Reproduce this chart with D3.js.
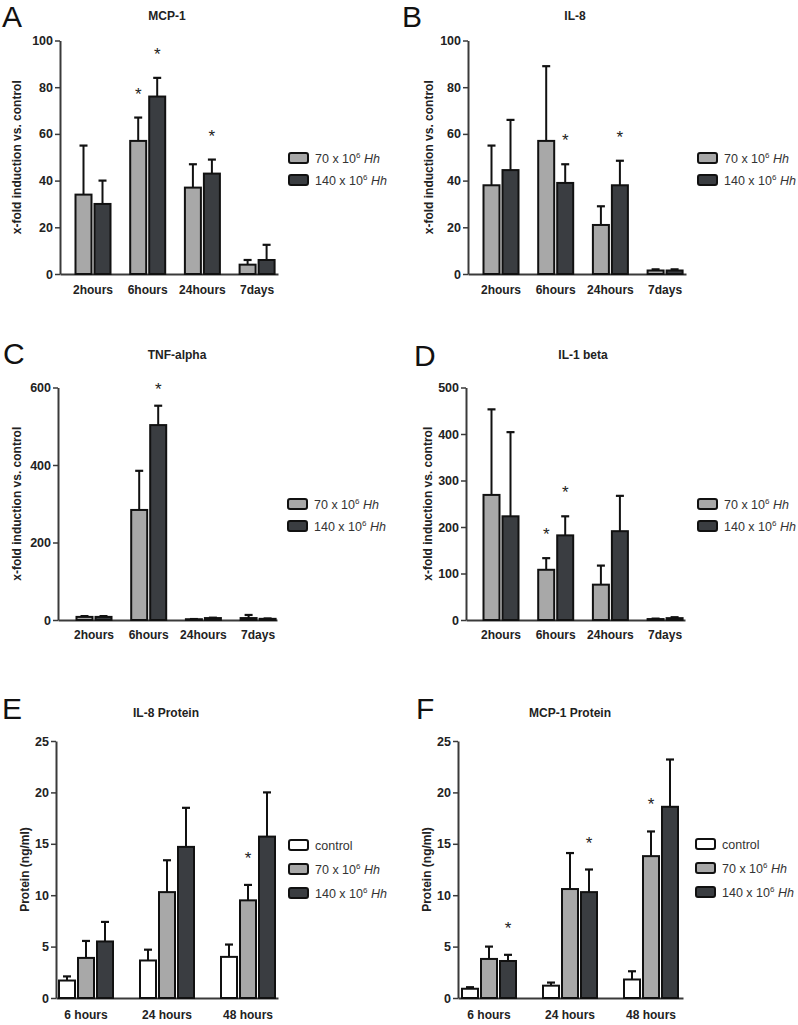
<!DOCTYPE html>
<html>
<head>
<meta charset="utf-8">
<script src="https://cdn.jsdelivr.net/npm/d3@7"></script>
<style>
  html, body { margin: 0; padding: 0; background: #fff; }
  svg { display: block; font-family: "Liberation Sans", Arial, sans-serif; }
</style>
</head>
<body>
<svg id="chart" width="798" height="1025"></svg>
<script>
// ---------------- DATA ----------------
const rnaCategories = ["2hours", "6hours", "24hours", "7days"];
const proteinCategories = ["6 hours", "24 hours", "48 hours"];
const rnaSeries = ["70", "140"];
const proteinSeries = ["control", "70", "140"];

// Panel A: MCP-1 (x-fold induction)
const mcp1Mean70 = [34, 57, 37, 4];
const mcp1Err70 = [21, 10, 10, 2];
const mcp1Mean140 = [30, 76, 43, 6];
const mcp1Err140 = [10, 8, 6, 6.5];
const mcp1Sig70 = [0, 1, 0, 0];
const mcp1Sig140 = [0, 1, 1, 0];
const mcp1Ticks = [0, 20, 40, 60, 80, 100];

// Panel B: IL-8
const il8Mean70 = [38, 57, 21, 1.5];
const il8Err70 = [17, 32, 8, 0.5];
const il8Mean140 = [44.5, 39, 38, 1.5];
const il8Err140 = [21.5, 8, 10.5, 0.5];
const il8Sig70 = [0, 0, 0, 0];
const il8Sig140 = [0, 1, 1, 0];
const il8Ticks = [0, 20, 40, 60, 80, 100];

// Panel C: TNF-alpha
const tnfMean70 = [8, 284, 2, 5];
const tnfErr70 = [2, 101, 0.5, 8];
const tnfMean140 = [8, 503, 5, 3];
const tnfErr140 = [2, 50, 1, 1];
const tnfSig70 = [0, 0, 0, 0];
const tnfSig140 = [0, 1, 0, 0];
const tnfTicks = [0, 200, 400, 600];

// Panel D: IL-1 beta
const il1Mean70 = [269, 108, 76, 2];
const il1Err70 = [184, 25, 41, 1];
const il1Mean140 = [223, 182, 191, 4];
const il1Err140 = [181, 41, 76, 2];
const il1Sig70 = [0, 1, 0, 0];
const il1Sig140 = [0, 1, 0, 0];
const il1Ticks = [0, 100, 200, 300, 400, 500];

// Panel E: IL-8 Protein (ng/ml)
const il8pMeanCtrl = [1.7, 3.65, 4.0];
const il8pErrCtrl = [0.4, 1.05, 1.2];
const il8pMean70 = [3.9, 10.3, 9.5];
const il8pErr70 = [1.65, 3.1, 1.5];
const il8pMean140 = [5.5, 14.7, 15.7];
const il8pErr140 = [1.9, 3.8, 4.3];
const il8pSigCtrl = [0, 0, 0];
const il8pSig70 = [0, 0, 1];
const il8pSig140 = [0, 0, 0];
const proteinTicks = [0, 5, 10, 15, 20, 25];

// Panel F: MCP-1 Protein (ng/ml)
const mcp1pMeanCtrl = [0.9, 1.2, 1.8];
const mcp1pErrCtrl = [0.15, 0.3, 0.8];
const mcp1pMean70 = [3.8, 10.6, 13.8];
const mcp1pErr70 = [1.2, 3.5, 2.4];
const mcp1pMean140 = [3.6, 10.3, 18.6];
const mcp1pErr140 = [0.6, 2.2, 4.6];
const mcp1pSigCtrl = [0, 0, 0];
const mcp1pSig70 = [0, 0, 1];
const mcp1pSig140 = [1, 1, 0];

// ---------------- STYLE ----------------
const fills = { control: "#ffffff", "70": "#a8a8a8", "140": "#3a3d41" };
const textColor = "#222";
const axisColor = "#3a3a3a";

const svg = d3.select("#chart");

function buildRows(cats, series, means, errs, sigs) {
  const rows = [];
  cats.forEach((c, i) => {
    series.forEach((s, j) => {
      rows.push({ cat: c, series: s, mean: means[j][i], err: errs[j][i], sig: sigs[j][i] });
    });
  });
  return rows;
}

function drawPanel(p) {
  const g = svg.append("g");
  const y = d3.scaleLinear().domain([0, p.ticks[p.ticks.length - 1]]).range([p.y0, p.y1]);
  const step = p.step;
  const x0 = d3.scaleBand().domain(p.cats)
    .range([p.axisX + p.first - step / 2, p.axisX + p.first - step / 2 + step * p.cats.length])
    .paddingInner(0).paddingOuter(0);
  const bw = 16, gap = 3;
  const tot = p.series.length * bw + (p.series.length - 1) * gap;
  const x1 = d3.scaleBand().domain(p.series).range([-tot / 2, tot / 2]).paddingInner(gap / (bw + gap)).paddingOuter(0);

  // Panel letter
  g.append("text").attr("x", p.letterX).attr("y", p.letterY)
    .attr("font-size", 30).attr("fill", "#111").text(p.letter);
  // Title
  g.append("text").attr("x", p.titleX).attr("y", p.titleY)
    .attr("text-anchor", "middle").attr("font-size", 12).attr("font-weight", "bold")
    .attr("fill", textColor).text(p.title);

  // Y axis
  const yAxis = d3.axisLeft(y).tickValues(p.ticks).tickSize(5).tickSizeOuter(0).tickPadding(2);
  const ya = g.append("g").attr("transform", `translate(${p.axisX},0)`).call(yAxis);
  ya.select(".domain").attr("stroke", axisColor).attr("stroke-width", 2);
  ya.selectAll(".tick line").attr("stroke", axisColor).attr("stroke-width", 1.5);
  ya.selectAll(".tick text").attr("font-size", 12.5).attr("font-weight", "bold")
    .attr("fill", textColor).attr("font-family", "Liberation Sans, Arial, sans-serif");

  // X axis line (no ticks)
  const xa = d3.axisBottom(d3.scaleLinear().domain([0, 1]).range([p.axisX, p.axisEnd]))
    .tickValues([]).tickSizeOuter(0);
  const xg = g.append("g").attr("transform", `translate(0,${y(0)})`).call(xa);
  xg.select(".domain").attr("stroke", axisColor).attr("stroke-width", 2);

  // Category labels
  g.selectAll(".xlab").data(p.cats).join("text")
    .attr("x", d => x0(d) + x0.bandwidth() / 2)
    .attr("y", p.xLabY)
    .attr("text-anchor", "middle").attr("font-size", 12).attr("font-weight", "bold")
    .attr("fill", textColor).text(d => d);

  // Y label
  g.append("text")
    .attr("transform", `translate(${p.yLabX},${(p.y0 + p.y1) / 2}) rotate(-90)`)
    .attr("text-anchor", "middle").attr("dominant-baseline", "central")
    .attr("font-size", 12).attr("font-weight", "bold").attr("fill", textColor)
    .text(p.yLabel);

  const rows = buildRows(p.cats, p.series, p.means, p.errs, p.sigs);
  const cx = d => x0(d.cat) + x0.bandwidth() / 2 + x1(d.series) + x1.bandwidth() / 2;

  // Error bars (upper only)
  const eg = g.append("g").attr("stroke", "#111").attr("stroke-width", 2);
  eg.selectAll(".evl").data(rows).join("line")
    .attr("x1", cx).attr("x2", cx)
    .attr("y1", d => y(d.mean)).attr("y2", d => y(d.mean + d.err));
  eg.selectAll(".ecap").data(rows).join("line")
    .attr("x1", d => cx(d) - 4).attr("x2", d => cx(d) + 4)
    .attr("y1", d => y(d.mean + d.err)).attr("y2", d => y(d.mean + d.err))
    .attr("stroke-width", 2.2);

  // Bars
  g.selectAll(".bar").data(rows).join("rect")
    .attr("x", d => x0(d.cat) + x0.bandwidth() / 2 + x1(d.series))
    .attr("width", x1.bandwidth())
    .attr("y", d => y(d.mean))
    .attr("height", d => y(0) - y(d.mean))
    .attr("fill", d => fills[d.series])
    .attr("stroke", "#111").attr("stroke-width", 2);

  // Significance asterisks
  g.selectAll(".sig").data(rows.filter(d => d.sig)).join("text")
    .attr("x", cx)
    .attr("y", d => y(d.mean + d.err) - p.starOff + 10)
    .attr("text-anchor", "middle").attr("font-size", 17).attr("fill", textColor)
    .text("*");

  // Legend
  const lg = g.append("g");
  p.series.forEach((s, i) => {
    const yy = p.legY + i * p.legStep;
    lg.append("rect").attr("x", p.legX).attr("y", yy - 5).attr("width", 19).attr("height", 10)
      .attr("rx", 2).attr("fill", fills[s]).attr("stroke", "#111").attr("stroke-width", 2);
    const t = lg.append("text").attr("x", p.legX + 26).attr("y", yy + 4.5)
      .attr("font-size", 12.5).attr("fill", "#333");
    if (s === "control") {
      t.text("control");
    } else {
      t.append("tspan").text(s + " x 10");
      t.append("tspan").attr("font-size", 8).attr("dy", -5).text("6");
      t.append("tspan").attr("dy", 5).text(" ");
      t.append("tspan").attr("font-style", "italic").text("Hh");
    }
  });
}

const rnaCommon = { cats: rnaCategories, series: rnaSeries, step: 54.7, starOff: 28,
  yLabel: "x-fold induction vs. control" };

drawPanel(Object.assign({}, rnaCommon, {
  letter: "A", letterX: 2, letterY: 27, title: "MCP-1", titleX: 167, titleY: 20,
  axisX: 60, axisEnd: 278, first: 33, y0: 274, y1: 40.5, ticks: mcp1Ticks,
  xLabY: 294, yLabX: 17,
  means: [mcp1Mean70, mcp1Mean140], errs: [mcp1Err70, mcp1Err140], sigs: [mcp1Sig70, mcp1Sig140],
  legX: 289, legY: 158, legStep: 22
}));

drawPanel(Object.assign({}, rnaCommon, {
  letter: "B", letterX: 402, letterY: 27, title: "IL-8", titleX: 575, titleY: 20,
  axisX: 468, axisEnd: 686, first: 33, y0: 274, y1: 40.5, ticks: il8Ticks,
  xLabY: 294, yLabX: 429,
  means: [il8Mean70, il8Mean140], errs: [il8Err70, il8Err140], sigs: [il8Sig70, il8Sig140],
  legX: 698, legY: 158, legStep: 22
}));

drawPanel(Object.assign({}, rnaCommon, {
  letter: "C", letterX: 3, letterY: 364, title: "TNF-alpha", titleX: 177, titleY: 359,
  axisX: 58, axisEnd: 277, first: 36, y0: 620, y1: 387.5, ticks: tnfTicks,
  xLabY: 639, yLabX: 17, starOff: 21,
  means: [tnfMean70, tnfMean140], errs: [tnfErr70, tnfErr140], sigs: [tnfSig70, tnfSig140],
  legX: 288, legY: 504, legStep: 22
}));

drawPanel(Object.assign({}, rnaCommon, {
  letter: "D", letterX: 414, letterY: 366, title: "IL-1 beta", titleX: 583, titleY: 359,
  axisX: 466, axisEnd: 685, first: 35, y0: 620, y1: 387.5, ticks: il1Ticks,
  xLabY: 639, yLabX: 428,
  means: [il1Mean70, il1Mean140], errs: [il1Err70, il1Err140], sigs: [il1Sig70, il1Sig140],
  legX: 698, legY: 504, legStep: 22
}));

const protCommon = { cats: proteinCategories, series: proteinSeries, step: 81, starOff: 31,
  yLabel: "Protein (ng/ml)", ticks: proteinTicks, y0: 998, y1: 741, xLabY: 1019 };

drawPanel(Object.assign({}, protCommon, {
  letter: "E", letterX: 2, letterY: 719, title: "IL-8 Protein", titleX: 166, titleY: 717,
  axisX: 56, axisEnd: 278, first: 30,
  yLabX: 25,
  means: [il8pMeanCtrl, il8pMean70, il8pMean140], errs: [il8pErrCtrl, il8pErr70, il8pErr140],
  sigs: [il8pSigCtrl, il8pSig70, il8pSig140],
  legX: 289, legY: 845, legStep: 24
}));

drawPanel(Object.assign({}, protCommon, {
  letter: "F", letterX: 416, letterY: 719, title: "MCP-1 Protein", titleX: 570, titleY: 717,
  axisX: 458, axisEnd: 683, first: 31,
  yLabX: 427,
  means: [mcp1pMeanCtrl, mcp1pMean70, mcp1pMean140], errs: [mcp1pErrCtrl, mcp1pErr70, mcp1pErr140],
  sigs: [mcp1pSigCtrl, mcp1pSig70, mcp1pSig140],
  legX: 696, legY: 844, legStep: 24
}));
</script>
</body>
</html>
